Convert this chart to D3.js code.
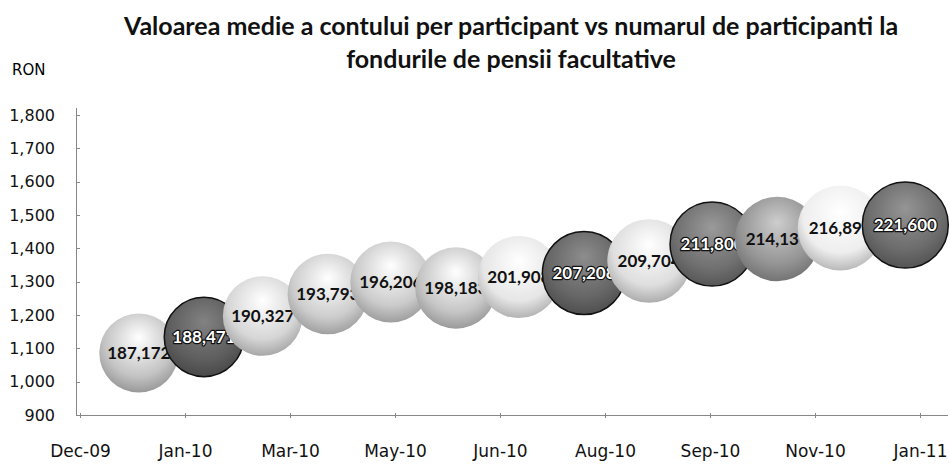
<!DOCTYPE html>
<meta charset="utf-8">
<head>
<style>
body { margin: 0; background: #fff; }
.axis path, .axis line { stroke: #888; shape-rendering: crispEdges; }
.axis text { font-family: "DejaVu Sans", sans-serif; font-size: 16px; fill: #111; }
.title { font-family: Lato, sans-serif; font-weight: bold; font-size: 25px; fill: #111; }
.lbl { font-family: Lato, sans-serif; font-weight: bold; font-size: 17px; paint-order: stroke; }
</style>
</head>
<body>
<script src="https://d3js.org/d3.v7.min.js"></script>
<script>

// month-end observations
var months = ["2009-12-31","2010-01-31","2010-02-28","2010-03-31","2010-04-30","2010-05-31",
              "2010-06-30","2010-07-31","2010-08-31","2010-09-30","2010-10-31","2010-11-30","2010-12-31"];
// average account value per participant (RON)
var avgValue = [1086, 1134, 1197, 1263, 1299, 1281, 1314, 1326, 1362, 1413, 1428, 1461, 1470];
// number of participants (bubble size + label)
var participants = [187172, 188471, 190327, 193793, 196206, 198183, 201908, 207208, 209704, 211800, 214139, 216895, 221600];
// x axis ticks (Excel value axis, step 50 days)
var xTicks = ["2009-12-03","2010-01-22","2010-03-13","2010-05-02","2010-06-21","2010-08-10","2010-09-29","2010-11-18","2011-01-07"];
var yTicks = [900, 1000, 1100, 1200, 1300, 1400, 1500, 1600, 1700, 1800];
// grey tone of each bubble (scan of a coloured chart)
var shades = ["#c4c4c4","#5e5e5e","#d6d6d6","#cdcdcd","#cbcbcb","#c6c6c6","#e6e6e6",
              "#666666","#dedede","#707070","#959595","#eeeeee","#6c6c6c"];

var parse = d3.timeParse("%Y-%m-%d");

var width = 950, height = 468;
var svg = d3.select("body").append("svg")
    .attr("width", width)
    .attr("height", height);

var x = d3.scaleTime()
    .domain([parse(xTicks[0]), parse(xTicks[xTicks.length - 1])])
    .range([80, 920]);

var y = d3.scaleLinear()
    .domain([900, 1800])
    .range([415, 115]);

var r = d3.scaleSqrt()
    .domain([0, d3.max(participants)])
    .range([0, 43]);

// title
svg.append("text").attr("class", "title")
    .attr("x", 511).attr("y", 35).attr("text-anchor", "middle")
    .text("Valoarea medie a contului per participant vs numarul de participanti la");
svg.append("text").attr("class", "title")
    .attr("x", 511).attr("y", 68).attr("text-anchor", "middle")
    .text("fondurile de pensii facultative");

svg.append("text")
    .attr("x", 12).attr("y", 75)
    .style("font-family", "DejaVu Sans, sans-serif").style("font-size", "15px")
    .text("RON");

// axes
svg.append("g").attr("class", "axis")
    .attr("transform", "translate(80,0)")
    .call(d3.axisLeft(y).tickValues(yTicks).tickSize(4).tickPadding(21).tickFormat(d3.format(",")))
    .call(function(g) { g.select(".domain").attr("d", "M-4,108V415"); });

svg.append("g").attr("class", "axis")
    .attr("transform", "translate(0,415)")
    .call(d3.axisBottom(x).tickValues(xTicks.map(parse)).tickSize(4).tickPadding(26)
      .tickFormat(d3.timeFormat("%b-%y")))
    .call(function(g) {
      g.select(".domain").attr("d", "M80,0H948");
      g.selectAll(".tick line").attr("y1", -2).attr("y2", 3);
      g.selectAll(".tick text").style("font-size", "17px");
    });

// gradients
var defs = svg.append("defs");
shades.forEach(function(c, i) {
  var g = defs.append("radialGradient").attr("id", "bub" + i)
      .attr("cx", "50%").attr("cy", "38%").attr("r", "62%").attr("fx", "50%").attr("fy", "30%");
  g.append("stop").attr("offset", "0%").attr("stop-color", d3.color(c).brighter(0.9));
  g.append("stop").attr("offset", "70%").attr("stop-color", c);
  g.append("stop").attr("offset", "100%").attr("stop-color", d3.color(c).darker(0.7));
});

var data = months.map(function(m, i) {
  return {date: parse(m), v: avgValue[i], n: participants[i], i: i};
});

function dark(i) { return d3.hsl(shades[i]).l < 0.5; }

var bub = svg.selectAll(".bub")
    .data(data)
  .enter().append("g")
    .attr("class", "bub")
    .attr("transform", function(d) { return "translate(" + x(d.date) + "," + y(d.v) + ")"; });

bub.append("circle")
    .attr("r", function(d) { return r(d.n); })
    .attr("fill", function(d) { return "url(#bub" + d.i + ")"; })
    .attr("stroke", function(d) { return dark(d.i) ? "#111" : "none"; })
    .attr("stroke-width", 1.5);

bub.append("text").attr("class", "lbl")
    .attr("text-anchor", "middle")
    .attr("dy", "0.35em")
    .attr("fill", function(d) { return dark(d.i) ? "#fff" : "#111"; })
    .attr("stroke", function(d) { return dark(d.i) ? "#111" : "none"; })
    .attr("stroke-width", 2.5)
    .attr("stroke-linejoin", "round")
    .text(function(d) { return d3.format(",")(d.n); });

</script>
</body>
